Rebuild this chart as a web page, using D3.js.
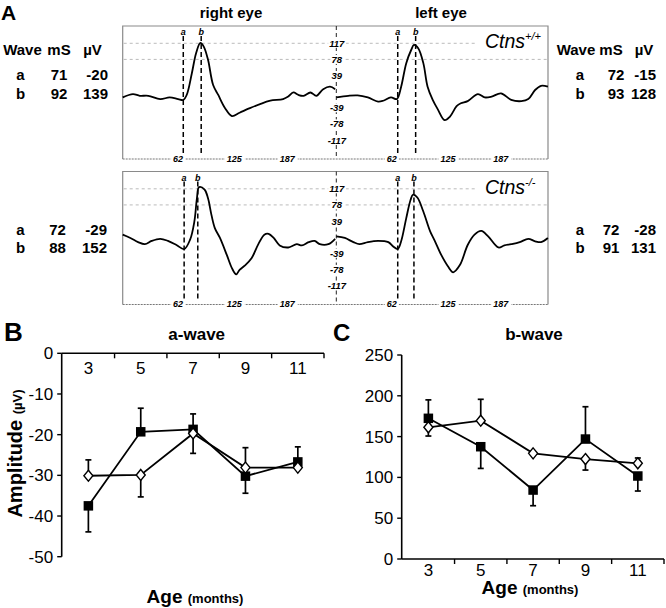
<!DOCTYPE html>
<html><head><meta charset="utf-8">
<script src="https://cdn.jsdelivr.net/npm/d3@7"></script>
<style>
body{margin:0;background:#fff}
svg{display:block}
text{font-family:"Liberation Sans",Arial,Helvetica,sans-serif;fill:#000}
</style>
</head><body>
<svg id="fig" width="666" height="608"></svg>
<script>
// ================= DATA =================
// Panel A – ERG traces, [time (ms), amplitude (µV)]
const ergTimeTicks = [62, 125, 187];
const ergAmpTicks = [117, 78, 39, -39, -78, -117];
const ergGridValues = [117, 78];
const tableHeader = ["Wave", "mS", "µV"];

const wtRightTrace = [[0,-14],[12,-6],[20,-10],[30,-10],[44,-18],[55,-14],[65,-18],[71,-20],[75,-8],[81,44],[86,93],[91,118],[95,109],[100,77],[106,16],[112,-8],[120,-40],[128,-59],[137,-51],[149,-40],[161,-30],[173,-22],[188,-18],[194,-12],[200,-2],[206,-8],[212,-10],[220,-2],[227,-10],[235,6],[243,12],[249,6]];
const wtLeftTrace = [[0,-14],[14,-10],[25,-9],[37,-14],[49,-24],[55,-22],[64,-14],[71,-18],[76,12],[82,69],[88,102],[91,113],[96,105],[102,69],[107,12],[113,-20],[119,-43],[127,-69],[133,-61],[141,-35],[146,-28],[154,-23],[166,-6],[174,-14],[182,-12],[193,-4],[205,-20],[217,-23],[225,-18],[233,4],[240,14],[248,12]];
const koRightTrace = [[0,6],[9,-2],[18,-12],[26,-17],[34,-9],[44,-4],[53,-9],[63,-19],[72,-29],[79,-6],[84,38],[87,94],[89.5,121],[96,115],[100,94],[104,54],[108,22],[114,-2],[122,-43],[128,-75],[133,-90],[137,-79],[143,-69],[151,-51],[159,-17],[166,6],[171,8],[177,-2],[184,-20],[194,-25],[204,-17],[210,-20],[218,-12],[225,-9],[231,-17],[241,-17],[249,-4]];
const koLeftTrace = [[0,2],[10,-2],[20,-12],[27,-17],[37,-12],[49,-9],[61,-12],[67,-23],[72,-29],[76,-10],[82,46],[87,90],[90,103],[95,96],[102,62],[110,14],[115,-7],[123,-43],[131,-71],[137,-85],[145,-67],[154,-19],[162,6],[170,15],[178,2],[190,-25],[197,-20],[205,-17],[215,-12],[225,-4],[233,-10],[240,-12],[248,-2]];

// wave tables: [wave, ms, µV]
const wtRightTable = [["a",71,-20],["b",92,139]];
const wtLeftTable  = [["a",72,-15],["b",93,128]];
const koRightTable = [["a",72,-29],["b",88,152]];
const koLeftTable  = [["a",72,-28],["b",91,131]];

// Panels B / C
const ages = [3, 5, 7, 9, 11];
const aWaveSquare = [-37.5, -19.3, -18.7, -30.2, -26.7];
const aWaveSquareErr = [-6.4, 5.8, 3.8, -4.2, 3.7];
const aWaveDiamond = [-30.1, -29.9, -19.7, -28.1, -28.1];
const aWaveDiamondErr = [3.9, -5.4, -4.9, 4.9, 0];
const aTicks = [0, -10, -20, -30, -40, -50];

const bWaveSquare = [172.4, 137.6, 84.5, 147, 101.7];
const bWaveSquareErr = [22.6, -26.6, -19.2, 39.6, -18.4];
const bWaveDiamond = [161.4, 169.5, 129.5, 122.5, 117.3];
const bWaveDiamondErr = [-10.7, 26.2, 0, -13.5, 6.5];
const bTicks = [0, 50, 100, 150, 200, 250];

// ================= DRAW =================
const svg = d3.select("#fig");
const F = '"Liberation Sans",Arial,Helvetica,sans-serif';

function txt(x, y, s, size, opts = {}) {
  return svg.append("text").attr("x", x).attr("y", y).text(s)
    .attr("font-size", size)
    .attr("font-weight", opts.bold === false ? "normal" : "bold")
    .attr("font-style", opts.italic ? "italic" : "normal")
    .attr("text-anchor", opts.anchor || "start");
}

// ---- Panel A ----
txt(1, 19.5, "A", 21);
txt(231, 18, "right eye", 15, {anchor: "middle"});
txt(441, 18, "left eye", 15, {anchor: "middle"});

const boxL = 122.7, boxR = 548, divX = 336.3;

function ergPanel(top, traces, tables, label, sup) {
  const bottom = top + 133;
  const y = d3.scaleLinear().domain([-117, 117]).range([top + 114, top + 17.3]);
  const g = svg.append("g");
  g.append("path")
    .attr("d", `M${boxL},${bottom}V${top}H${boxR}V${bottom}`)
    .attr("fill", "none").attr("stroke", "#8a8a8a").attr("stroke-width", 1.2);
  g.append("line").attr("x1", boxL).attr("x2", boxR).attr("y1", bottom).attr("y2", bottom)
    .attr("stroke", "#777").attr("stroke-width", 1).attr("stroke-dasharray", "2,1");
  g.selectAll(".grid").data(ergGridValues).join("line")
    .attr("x1", boxL + 1).attr("x2", boxR - 1)
    .attr("y1", d => y(d)).attr("y2", d => y(d))
    .attr("stroke", "#aaa").attr("stroke-width", 0.8).attr("stroke-dasharray", "3,3");
  g.append("rect").attr("x", 477).attr("y", top + 3).attr("width", 70).attr("height", 22).attr("fill", "#fff");
  const lt = g.append("text").attr("x", 485).attr("y", top + 22)
    .attr("font-size", 19.5).attr("font-style", "italic").attr("font-family", F);
  lt.append("tspan").text(label);
  lt.append("tspan").text(sup).attr("font-size", 11).attr("dy", -8);

  g.append("line").attr("x1", divX).attr("x2", divX).attr("y1", top).attr("y2", bottom)
    .attr("stroke", "#222").attr("stroke-width", 1).attr("stroke-dasharray", "4,3");

  [boxL, divX].forEach((x0, i) => {
    const x = d3.scaleLinear().domain([0, 250]).range([x0, x0 + 213.3]);
    ergTimeTicks.forEach(t => {
      const tt = g.append("text").attr("x", x(t) - 2.5).attr("y", bottom + 2.5).text(t)
        .attr("font-size", 9).attr("font-weight", "bold").attr("font-style", "italic");
      const bb = tt.node().getBBox();
      g.insert("rect", () => tt.node()).attr("x", bb.x - 2).attr("y", bb.y).attr("width", bb.width + 4)
        .attr("height", bb.height).attr("fill", "#fff");
    });
    tables[i].forEach(r => {
      g.append("line").attr("x1", x(r[1])).attr("x2", x(r[1]))
        .attr("y1", top + 10).attr("y2", bottom - 4)
        .attr("stroke", "#000").attr("stroke-width", 1.5).attr("stroke-dasharray", "5,3");
      g.append("text").attr("x", x(r[1])).attr("y", top + 9).text(r[0])
        .attr("font-size", 9).attr("font-weight", "bold").attr("font-style", "italic")
        .attr("text-anchor", "middle");
    });
    g.append("path").datum(traces[i])
      .attr("d", d3.line().x(d => x(d[0])).y(d => y(d[1])).curve(d3.curveCatmullRom.alpha(0.5)))
      .attr("fill", "none").attr("stroke", "#000").attr("stroke-width", 1.8).attr("stroke-linejoin", "round");
  });
  ergAmpTicks.forEach(v => {
    const tt = g.append("text").attr("x", divX + 0.5).attr("y", y(v) + 3.5).text(v)
      .attr("font-size", 9.5).attr("font-weight", "bold").attr("font-style", "italic")
      .attr("text-anchor", "middle");
    const bb = tt.node().getBBox();
    g.insert("rect", () => tt.node()).attr("x", bb.x - 1).attr("y", bb.y + 1).attr("width", bb.width + 2)
      .attr("height", bb.height - 2).attr("fill", "#fff");
  });
}

ergPanel(26, [wtRightTrace, wtLeftTrace], [wtRightTable, wtLeftTable], "Ctns", "+/+");
ergPanel(171.5, [koRightTrace, koLeftTrace], [koRightTable, koLeftTable], "Ctns", "-/-");

// tables
const TF = 15;
function table(rows, header, cols, headY, rowYs) {
  if (header) {
    header.forEach((h, j) => txt(cols.head[j], headY, h, TF, {anchor: "middle"}));
  }
  rows.forEach((r, i) => {
    txt(cols.letter, rowYs[i], r[0], TF, {anchor: "middle"});
    txt(cols.ms, rowYs[i], r[1], TF, {anchor: "middle"});
    txt(cols.uv, rowYs[i], r[2], TF, {anchor: "end"});
  });
}
table(wtRightTable, tableHeader, {head: [22.5, 59, 92.5], letter: 20.5, ms: 59, uv: 108}, 55, [80, 99]);
table(wtLeftTable, tableHeader, {head: [576, 611, 644], letter: 580, ms: 616, uv: 656}, 55, [80, 99]);
table(koRightTable, null, {letter: 20.5, ms: 57.5, uv: 107}, 0, [235, 253]);
table(koLeftTable, null, {letter: 580, ms: 611, uv: 656}, 0, [235, 253]);

// ---- Panels B & C ----
function linePanel(opt) {
  const g = svg.append("g");
  const x = d3.scaleBand().domain(ages).range([opt.x0 + 0.5, opt.x1]);
  const y = d3.scaleLinear().domain(opt.domain).range(opt.yRange);
  const cx = d => x(d) + x.bandwidth() / 2;
  const axisY = opt.axisY;
  g.append("line").attr("x1", opt.x0).attr("x2", opt.x0)
    .attr("y1", y(opt.domain[0])).attr("y2", y(opt.domain[1]))
    .attr("stroke", "#000").attr("stroke-width", 1.6);
  opt.ticks.forEach(t => {
    g.append("line").attr("x1", opt.x0 - 4.5).attr("x2", opt.x0).attr("y1", y(t)).attr("y2", y(t))
      .attr("stroke", "#000").attr("stroke-width", 1.4);
    g.append("text").attr("x", opt.x0 - 8.5).attr("y", y(t) + 6).text(t)
      .attr("font-size", 17).attr("text-anchor", "end");
  });
  g.append("line").attr("x1", opt.x0).attr("x2", opt.x1).attr("y1", axisY).attr("y2", axisY)
    .attr("stroke", "#000").attr("stroke-width", 1.6);
  ages.forEach(a => {
    const xe = x(a) + x.bandwidth();
    g.append("line").attr("x1", xe).attr("x2", xe).attr("y1", axisY).attr("y2", axisY + 5)
      .attr("stroke", "#000").attr("stroke-width", 1.4);
    g.append("text").attr("x", cx(a)).attr("y", axisY + opt.labelDy).text(a)
      .attr("font-size", 17).attr("text-anchor", "middle");
  });
  const series = [
    {v: opt.sq, e: opt.sqErr, type: "square"},
    {v: opt.di, e: opt.diErr, type: "diamond"}
  ];
  series.forEach(s => {
    g.append("path").datum(ages.map((a, i) => [cx(a), y(s.v[i])]))
      .attr("d", d3.line()).attr("fill", "none").attr("stroke", "#000").attr("stroke-width", 1.8);
  });
  series.forEach(s => {
    ages.forEach((a, i) => {
      if (!s.e[i]) return;
      const y0 = y(s.v[i]), y1 = y(s.v[i] + s.e[i]);
      g.append("line").attr("x1", cx(a)).attr("x2", cx(a)).attr("y1", y0).attr("y2", y1)
        .attr("stroke", "#000").attr("stroke-width", 1.7);
      g.append("line").attr("x1", cx(a) - 3).attr("x2", cx(a) + 3).attr("y1", y1).attr("y2", y1)
        .attr("stroke", "#000").attr("stroke-width", 1.7);
    });
  });
  series.forEach(s => {
    ages.forEach((a, i) => {
      const px = cx(a), py = y(s.v[i]);
      if (s.type === "square") {
        g.append("rect").attr("x", px - 4.75).attr("y", py - 4.75).attr("width", 9.5).attr("height", 9.5)
          .attr("fill", "#000");
      } else {
        g.append("path").attr("d", `M${px},${py - 5.5}L${px + 4.5},${py}L${px},${py + 5.5}L${px - 4.5},${py}Z`)
          .attr("fill", "#fff").attr("stroke", "#000").attr("stroke-width", 1.4);
      }
    });
  });
}

linePanel({x0: 61.7, x1: 324, domain: [-50, 0], yRange: [556.7, 353.3], ticks: aTicks,
  axisY: 353.3, labelDy: 21, sq: aWaveSquare, sqErr: aWaveSquareErr, di: aWaveDiamond, diErr: aWaveDiamondErr});
linePanel({x0: 401.7, x1: 664, domain: [0, 250], yRange: [559, 355], ticks: bTicks,
  axisY: 559, labelDy: 17, sq: bWaveSquare, sqErr: bWaveSquareErr, di: bWaveDiamond, diErr: bWaveDiamondErr});

txt(4, 341, "B", 26);
txt(333, 341, "C", 24);
txt(196.7, 340, "a-wave", 17, {anchor: "middle"});
txt(534, 340, "b-wave", 17, {anchor: "middle"});

const amp = svg.append("text").attr("transform", "translate(21.5,453.5) rotate(-90)")
  .attr("text-anchor", "middle").attr("font-weight", "bold");
amp.append("tspan").text("Amplitude ").attr("font-size", 20);
amp.append("tspan").text("(µV)").attr("font-size", 13);

[[195, 603], [530, 594]].forEach(p => {
  const t = svg.append("text").attr("x", p[0]).attr("y", p[1]).attr("text-anchor", "middle")
    .attr("font-weight", "bold");
  t.append("tspan").text("Age ").attr("font-size", 19);
  t.append("tspan").text("(months)").attr("font-size", 13);
});
</script>
</body></html>
